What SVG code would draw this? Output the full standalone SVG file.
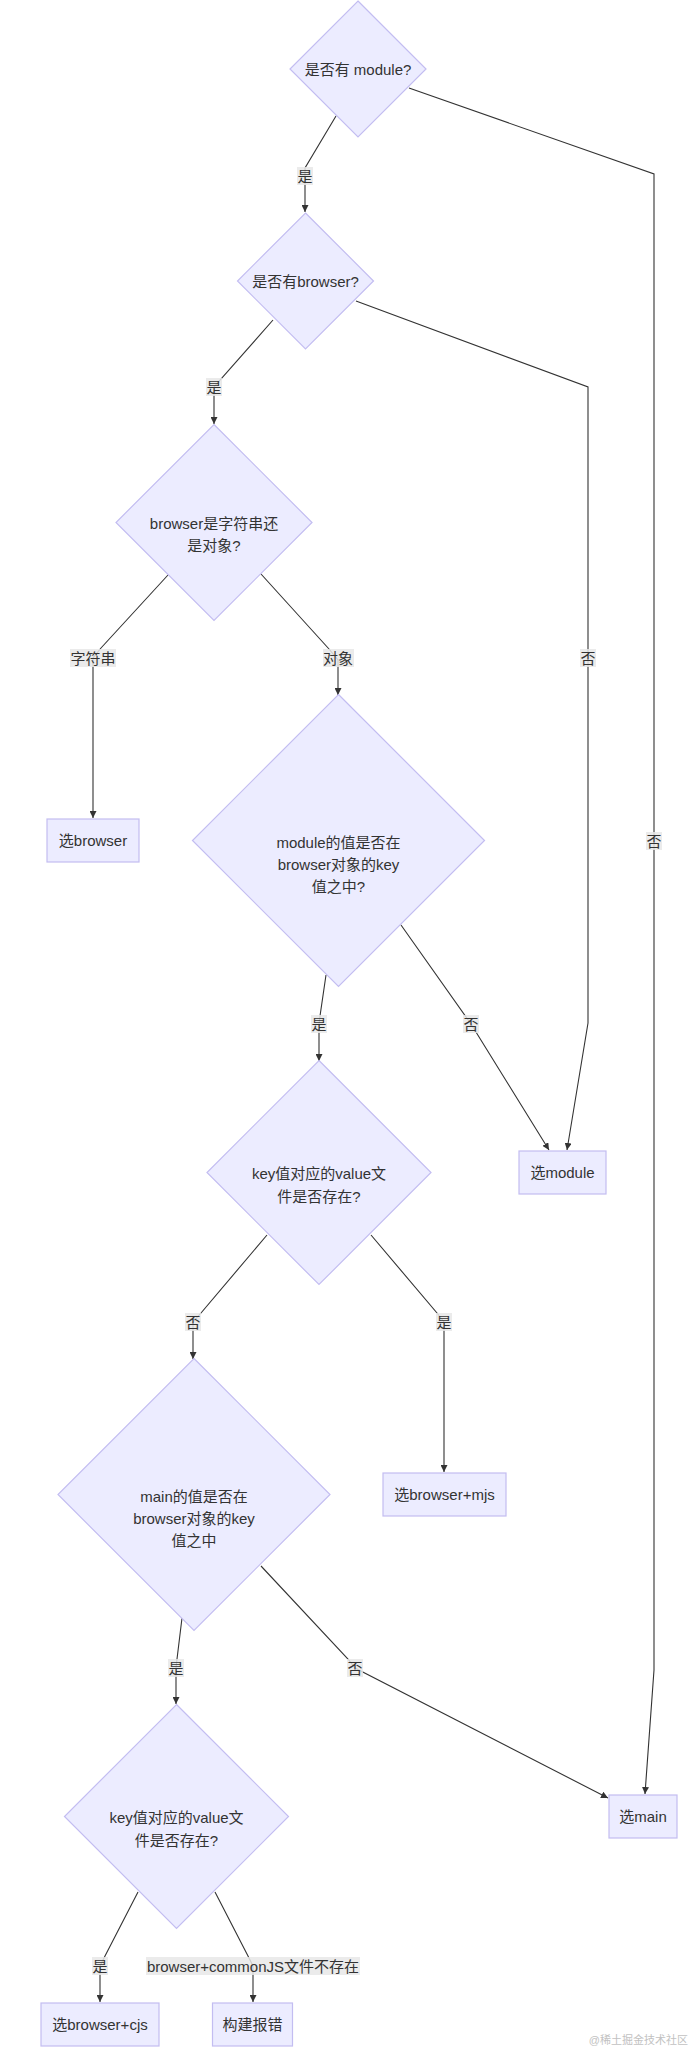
<svg xmlns="http://www.w3.org/2000/svg" width="692" height="2060" viewBox="0 0 692 2060">
<defs>
<marker id="arr" viewBox="0 0 10 10" refX="10" refY="5" markerWidth="7" markerHeight="7" markerUnits="userSpaceOnUse" orient="auto">
<path d="M0,0 L10,5 L0,10 z" fill="#333"/>
</marker>
<style>
.node{fill:#ECECFF;stroke:#C3BDF1;stroke-width:1.2}
.t{font-family:"Liberation Sans","Noto Sans CJK SC",sans-serif;font-size:15px;fill:#333;text-anchor:middle;dominant-baseline:central}
.e{fill:none;stroke:#333;stroke-width:1.1;marker-end:url(#arr)}
.lb{fill:#E8E8E8;fill-opacity:0.85}
.wm{font-family:"Liberation Sans","Noto Sans CJK SC",sans-serif;font-size:11px;fill:#C2C2C2;text-anchor:end}
</style>
</defs>
<rect width="692" height="2060" fill="#fff"/>
<g id="connectors">
<path class="e" d="M336,116 L305,168 L305,212"/>
<path class="e" d="M409,88 L654,174 L654,1670 L645,1794"/>
<path class="e" d="M273,320 L214,387 L214,424"/>
<path class="e" d="M356,301 L588,387 L588,1023 L567,1150"/>
<path class="e" d="M168,575 L101,648 L93,658 L93,818"/>
<path class="e" d="M261,574 L329,649 L338,660 L338,695"/>
<path class="e" d="M326,975 L320,1016 L319,1024 L319,1061"/>
<path class="e" d="M401,925 L471,1024 L549,1150"/>
<path class="e" d="M267,1235 L201,1313 L193,1322 L193,1359"/>
<path class="e" d="M371,1235 L437,1313 L444,1322 L444,1472"/>
<path class="e" d="M182,1618 L177,1659 L176,1668 L176,1704"/>
<path class="e" d="M261,1566 L348,1659 L355,1668 L608,1798"/>
<path class="e" d="M138,1892 L105,1956 L100,1966 L100,2002"/>
<path class="e" d="M215,1892 L248,1956 L253,1966 L253,2002"/>
</g>
<g id="edge-labels">
<rect class="lb" x="297" y="167" width="16" height="18"/><text class="t" x="305" y="176">是</text>
<rect class="lb" x="206" y="378" width="16" height="18"/><text class="t" x="214" y="387">是</text>
<rect class="lb" x="70" y="649" width="46" height="18"/><text class="t" x="93" y="658">字符串</text>
<rect class="lb" x="323" y="649" width="31" height="18"/><text class="t" x="338" y="658">对象</text>
<rect class="lb" x="580" y="649" width="16" height="18"/><text class="t" x="588" y="658">否</text>
<rect class="lb" x="646" y="832" width="16" height="18"/><text class="t" x="654" y="841">否</text>
<rect class="lb" x="311" y="1015" width="16" height="18"/><text class="t" x="319" y="1024">是</text>
<rect class="lb" x="463" y="1015" width="16" height="18"/><text class="t" x="471" y="1024">否</text>
<rect class="lb" x="185" y="1313" width="16" height="18"/><text class="t" x="193" y="1322">否</text>
<rect class="lb" x="436" y="1313" width="16" height="18"/><text class="t" x="444" y="1322">是</text>
<rect class="lb" x="168" y="1659" width="16" height="18"/><text class="t" x="176" y="1668">是</text>
<rect class="lb" x="347" y="1659" width="16" height="18"/><text class="t" x="355" y="1668">否</text>
<rect class="lb" x="92" y="1957" width="16" height="18"/><text class="t" x="100" y="1966">是</text>
<rect class="lb" x="146" y="1957" width="214" height="18"/><text class="t" x="253" y="1966">browser+commonJS文件不存在</text>
</g>
<g id="d1"><polygon class="node" points="358,1 426,69 358,137 290,69"/><text class="t" x="358" y="69">是否有 module?</text></g>
<g id="d2"><polygon class="node" points="305.5,213 373.5,281 305.5,349 237.5,281"/><text class="t" x="305.5" y="281">是否有browser?</text></g>
<g id="d3"><polygon class="node" points="214,424.5 312,522.5 214,620.5 116,522.5"/><text class="t" x="214" y="523">browser是字符串还</text><text class="t" x="214" y="545.5">是对象?</text></g>
<g id="d4"><polygon class="node" points="338.5,694.5 484.5,840.5 338.5,986.5 192.5,840.5"/><text class="t" x="338.5" y="842">module的值是否在</text><text class="t" x="338.5" y="864">browser对象的key</text><text class="t" x="338.5" y="886">值之中?</text></g>
<g id="d5"><polygon class="node" points="319,1060.5 431,1172.5 319,1284.5 207,1172.5"/><text class="t" x="319" y="1173">key值对应的value文</text><text class="t" x="319" y="1196">件是否存在?</text></g>
<g id="d6"><polygon class="node" points="194,1358.5 330,1494.5 194,1630.5 58,1494.5"/><text class="t" x="194" y="1496">main的值是否在</text><text class="t" x="194" y="1518">browser对象的key</text><text class="t" x="194" y="1540">值之中</text></g>
<g id="d7"><polygon class="node" points="176.5,1704.5 288.5,1816.5 176.5,1928.5 64.5,1816.5"/><text class="t" x="176.5" y="1817">key值对应的value文</text><text class="t" x="176.5" y="1840">件是否存在?</text></g>
<g id="n-browser"><rect class="node" x="47" y="819" width="92" height="43"/><text class="t" x="93" y="840.5">选browser</text></g>
<g id="n-module"><rect class="node" x="519" y="1151" width="87" height="43"/><text class="t" x="562.5" y="1172.5">选module</text></g>
<g id="n-mjs"><rect class="node" x="383" y="1473" width="123" height="43"/><text class="t" x="444.5" y="1494.5">选browser+mjs</text></g>
<g id="n-main"><rect class="node" x="609" y="1795" width="68" height="43"/><text class="t" x="643" y="1816.5">选main</text></g>
<g id="n-cjs"><rect class="node" x="41" y="2003" width="118" height="43"/><text class="t" x="100" y="2024.5">选browser+cjs</text></g>
<g id="n-error"><rect class="node" x="212.5" y="2003" width="80" height="43"/><text class="t" x="252.5" y="2024.5">构建报错</text></g>
<text class="wm" x="688" y="2044">@稀土掘金技术社区</text>
</svg>
